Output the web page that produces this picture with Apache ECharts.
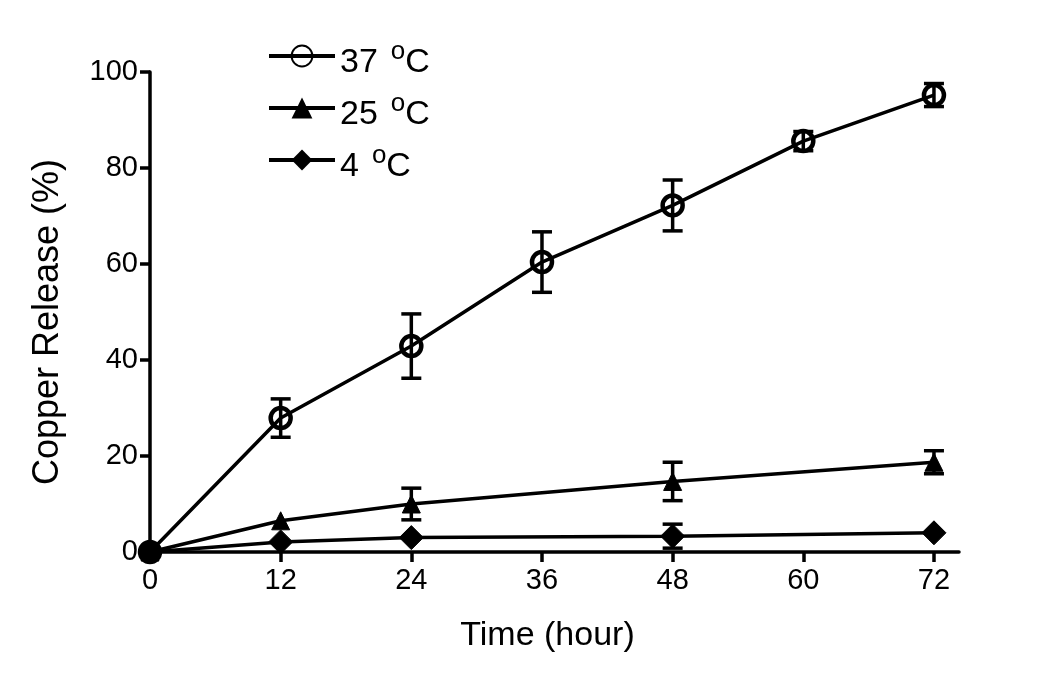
<!DOCTYPE html>
<html>
<head>
<meta charset="utf-8">
<script src="https://cdn.jsdelivr.net/npm/echarts@6/dist/echarts.min.js"></script>
<style>html,body{margin:0;padding:0;background:#fff}#c{width:1050px;height:683px}</style>
</head>
<body>
<div id="c"></div>
<script>
// Data
const xTicks = [0, 12, 24, 36, 48, 60, 72];
const yTicks = [0, 20, 40, 60, 80, 100];
const seriesNames = ['37', '25', '4'];

const time37 = [0, 12, 24, 36, 48, 60, 72];
const val37  = [0, 27.9, 42.9, 60.4, 72.2, 85.6, 95.2];
const err37  = [0, 4.0, 6.7, 6.3, 5.3, 2.0, 2.4];

const time25 = [0, 12, 24, 48, 72];
const val25  = [0, 6.5, 10.0, 14.7, 18.7];
const err25  = [0, 0, 3.3, 4.0, 2.4];

const time4 = [0, 12, 24, 48, 72];
const val4  = [0, 2.1, 3.0, 3.3, 4.0];
const err4  = [0, 0, 0, 2.5, 0];

const FONT = 'Liberation Sans, Arial, sans-serif';
const zip = (xs, ys) => xs.map((x, i) => [x, ys[i]]);
const zip3 = (xs, ys, es) => xs.map((x, i) => [x, ys[i], es[i]]).filter(d => d[2] > 0);

function errRender(params, api) {
  const x = api.value(0), y = api.value(1), e = api.value(2);
  const top = api.coord([x, y + e]);
  const bot = api.coord([x, y - e]);
  const hw = 10;
  const st = {stroke: '#000', lineWidth: 3.5};
  return {
    type: 'group',
    children: [
      {type: 'line', shape: {x1: top[0], y1: top[1], x2: bot[0], y2: bot[1]}, style: st},
      {type: 'line', shape: {x1: top[0] - hw, y1: top[1], x2: top[0] + hw, y2: top[1]}, style: st},
      {type: 'line', shape: {x1: bot[0] - hw, y1: bot[1], x2: bot[0] + hw, y2: bot[1]}, style: st}
    ]
  };
}

const chart = echarts.init(document.getElementById('c'), null, {renderer: 'canvas'});
const lineCommon = {
  type: 'line',
  lineStyle: {color: '#000', width: 3.5},
  itemStyle: {color: '#000', borderColor: '#000'},
  showAllSymbol: true,
  animation: false,
  z: 3
};
chart.setOption({
  backgroundColor: '#fff',
  animation: false,
  grid: {left: 150, top: 72, right: 91, bottom: 131},
  legend: {
    left: 262, top: 27, orient: 'vertical', itemGap: 4,
    itemWidth: 66, itemHeight: 26,
    lineStyle: {width: 4, color: '#000'},
    data: seriesNames.map(n => n + ' °C'),
    formatter: name => '{n|' + name.split(' ')[0] + '}{g| }{s|o}{n|C}',
    textStyle: {
      rich: {
        n: {fontSize: 34, fontFamily: FONT, color: '#000', lineHeight: 48, verticalAlign: 'bottom'},
        g: {fontSize: 34, fontFamily: FONT, color: '#000', lineHeight: 48, verticalAlign: 'bottom', width: 13},
        s: {fontSize: 26, fontFamily: FONT, color: '#000', lineHeight: 48, verticalAlign: 'top', padding: [7, 0, 0, 0]}
      }
    }
  },
  xAxis: {
    type: 'value', min: 0, max: 74.3, interval: 12,
    name: 'Time (hour)', nameLocation: 'middle', nameGap: 67,
    nameTextStyle: {fontSize: 34, fontFamily: FONT, color: '#000', padding: [0, 14, 0, 0]},
    axisLine: {show: true, lineStyle: {color: '#000', width: 3.5}},
    axisTick: {show: true, length: 10, lineStyle: {color: '#000', width: 3.5}, customValues: xTicks},
    axisLabel: {fontSize: 29, fontFamily: FONT, color: '#000', margin: 14, customValues: xTicks},
    splitLine: {show: false}
  },
  yAxis: {
    type: 'value', min: 0, max: 100, interval: 20,
    name: 'Copper Release (%)', nameLocation: 'middle', nameGap: 84,
    nameTextStyle: {fontSize: 36, fontFamily: FONT, color: '#000', padding: [0, 20, 0, 0]},
    axisLine: {show: true, lineStyle: {color: '#000', width: 3.5}},
    axisTick: {show: true, length: 10, lineStyle: {color: '#000', width: 3.5}, customValues: yTicks},
    axisLabel: {fontSize: 29, fontFamily: FONT, color: '#000', margin: 12, customValues: yTicks},
    splitLine: {show: false}
  },
  series: [
    Object.assign({}, lineCommon, {
      name: seriesNames[0] + ' °C', data: zip(time37, val37),
      symbol: 'circle', symbolSize: 20,
      itemStyle: {color: 'rgba(0,0,0,0)', borderColor: '#000', borderWidth: 4.5}
    }),
    Object.assign({}, lineCommon, {
      name: seriesNames[1] + ' °C', data: zip(time25, val25),
      symbol: 'triangle', symbolSize: 18
    }),
    Object.assign({}, lineCommon, {
      name: seriesNames[2] + ' °C', data: zip(time4, val4),
      symbol: 'diamond', symbolSize: 24
    }),
    {type: 'custom', renderItem: errRender, data: zip3(time37, val37, err37), z: 2, silent: true},
    {type: 'custom', renderItem: errRender, data: zip3(time25, val25, err25), z: 2, silent: true},
    {type: 'custom', renderItem: errRender, data: zip3(time4, val4, err4), z: 2, silent: true}
  ]
});
</script>
</body>
</html>
